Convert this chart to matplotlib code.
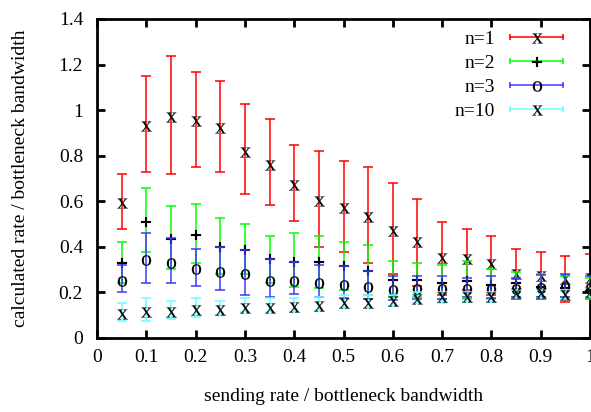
import matplotlib
matplotlib.use("Agg")
import matplotlib.pyplot as plt
from matplotlib.lines import Line2D
from matplotlib.legend_handler import HandlerBase
from matplotlib.ticker import FuncFormatter, MultipleLocator
import numpy as np

plt.rcParams['font.family'] = ['Liberation Serif', 'DejaVu Serif']
plt.rcParams['mathtext.fontset'] = 'custom'
plt.rcParams['mathtext.rm'] = 'Liberation Serif'
plt.rcParams['font.size'] = 14

x = [0.05, 0.10, 0.15, 0.20, 0.25, 0.30, 0.35, 0.40, 0.45, 0.50,
     0.55, 0.60, 0.65, 0.70, 0.75, 0.80, 0.85, 0.90, 0.95, 1.00]

n1_mean = [0.594, 0.929, 0.968, 0.951, 0.920, 0.818, 0.758, 0.672, 0.601, 0.572,
           0.531, 0.471, 0.423, 0.353, 0.346, 0.324, 0.283, 0.272, 0.258, 0.265]
n1_hi = [0.72, 1.149, 1.238, 1.167, 1.127, 1.027, 0.961, 0.847, 0.821, 0.777,
         0.752, 0.681, 0.611, 0.51, 0.48, 0.449, 0.392, 0.379, 0.362, 0.37]
n1_lo = [0.48, 0.729, 0.72, 0.752, 0.729, 0.631, 0.582, 0.513, 0.401, 0.379,
         0.331, 0.283, 0.23, 0.19, 0.21, 0.19, 0.17, 0.17, 0.16, 0.17]

n2_mean = [0.331, 0.51, 0.436, 0.454, 0.401, 0.388, 0.346, 0.335, 0.335, 0.314,
           0.292, 0.255, 0.255, 0.243, 0.25, 0.233, 0.24, 0.225, 0.22, 0.207]
n2_hi = [0.423, 0.659, 0.58, 0.589, 0.526, 0.502, 0.449, 0.462, 0.449, 0.423,
         0.41, 0.34, 0.331, 0.322, 0.338, 0.302, 0.29, 0.283, 0.27, 0.265]
n2_lo = [0.24, 0.379, 0.302, 0.331, 0.28, 0.28, 0.24, 0.222, 0.22, 0.21,
         0.19, 0.18, 0.18, 0.17, 0.17, 0.17, 0.18, 0.18, 0.18, 0.17]

n3_mean = [0.251, 0.343, 0.329, 0.305, 0.29, 0.283, 0.251, 0.251, 0.242, 0.233,
           0.222, 0.211, 0.214, 0.217, 0.214, 0.217, 0.217, 0.22, 0.225, 0.22]
n3_hi = [0.322, 0.462, 0.44, 0.392, 0.401, 0.388, 0.346, 0.335, 0.322, 0.314,
         0.292, 0.27, 0.27, 0.27, 0.262, 0.27, 0.262, 0.275, 0.28, 0.27]
n3_lo = [0.2, 0.24, 0.24, 0.23, 0.21, 0.19, 0.182, 0.191, 0.18, 0.175,
         0.17, 0.165, 0.17, 0.17, 0.182, 0.175, 0.18, 0.18, 0.18, 0.18]

n10_mean = [0.105, 0.112, 0.112, 0.122, 0.122, 0.133, 0.133, 0.136, 0.141, 0.152,
            0.152, 0.163, 0.171, 0.178, 0.182, 0.178, 0.196, 0.196, 0.19, 0.2]
n10_hi = [0.152, 0.174, 0.161, 0.174, 0.161, 0.174, 0.174, 0.174, 0.181, 0.19,
          0.19, 0.19, 0.2, 0.2, 0.2, 0.2, 0.21, 0.21, 0.21, 0.22]
n10_lo = [0.073, 0.073, 0.083, 0.09, 0.099, 0.112, 0.112, 0.115, 0.12, 0.13,
          0.13, 0.14, 0.153, 0.155, 0.16, 0.16, 0.175, 0.175, 0.17, 0.18]

labels = ["n=1", "n=2", "n=3", "n=10"]
colors = ["#ff0000", "#00ff00", "#3a3aff", "#66ffff"]
chars = ["x", "+", "o", "x"]

series = [(n1_mean, n1_lo, n1_hi), (n2_mean, n2_lo, n2_hi),
          (n3_mean, n3_lo, n3_hi), (n10_mean, n10_lo, n10_hi)]

fig = plt.figure(figsize=(5.91, 4.12), dpi=100)
ax = fig.add_axes([97/591, 74/412, 493/591, 319/412])

MS = 7.5
handles = []
for i, ((m, lo, hi), lab, col, ch) in enumerate(zip(series, labels, colors, chars)):
    m = np.array(m); lo = np.array(lo); hi = np.array(hi)
    yerr = [m - lo, hi - m]
    cont = ax.errorbar(x, m, yerr=yerr, fmt='none', ecolor=col, elinewidth=1.1,
                       capsize=3.5, capthick=1.1, zorder=2 + 2 * i)
    ax.plot(x, m, ls='none', marker=r'$\mathrm{%s}$' % ch, ms=MS, color='black',
            mew=0.1, zorder=3 + 2 * i)
    handles.append(cont)


class GPHandler(HandlerBase):
    def __init__(self, color, char):
        super().__init__()
        self.color = color
        self.char = char

    def create_artists(self, legend, orig_handle, xdescent, ydescent, width,
                       height, fontsize, trans):
        y = height / 2 - ydescent
        x0, x1 = -xdescent, width - xdescent
        line = Line2D([x0, x1], [y, y], color=self.color, lw=1.1)
        caps = Line2D([x0, x1], [y, y], ls='none', marker='|', ms=5,
                      mew=1.1, color=self.color)
        mk = Line2D([(x0 + x1) / 2], [y - 1], ls='none',
                    marker=r'$\mathrm{%s}$' % self.char, ms=MS, color='black', mew=0.1)
        for a in (line, caps, mk):
            a.set_transform(trans)
        return [line, caps, mk]


hmap = {h: GPHandler(c, ch) for h, c, ch in zip(handles, colors, chars)}
leg = ax.legend(handles, labels, handler_map=hmap, loc='upper right',
                bbox_to_anchor=(0.962, 0.99), frameon=False, markerfirst=False,
                handlelength=2.75, handletextpad=0.75, labelspacing=0.33,
                borderaxespad=0.0, fontsize=14)

ax.set_xlim(0, 1)
ax.set_ylim(0, 1.4)
ax.xaxis.set_major_locator(MultipleLocator(0.1))
ax.yaxis.set_major_locator(MultipleLocator(0.2))
fmt = FuncFormatter(lambda v, p: ('%.1f' % v).rstrip('0').rstrip('.') if abs(v) > 1e-9 else '0')
ax.xaxis.set_major_formatter(fmt)
ax.yaxis.set_major_formatter(fmt)
ax.tick_params(direction='in', length=6, width=2, top=True, right=True,
               labelsize=14)
ax.tick_params(axis='y', pad=10)
ax.tick_params(axis='x', pad=8)
for s in ax.spines.values():
    s.set_linewidth(2)

ax.set_xlabel("sending rate / bottleneck bandwidth", fontsize=14)
ax.set_ylabel("calculated rate / bottleneck bandwidth", fontsize=14)
ax.xaxis.set_label_coords(0.5, -0.158)
ax.yaxis.set_label_coords(-0.137, 0.5)

fig.savefig("out.png", dpi=100)
